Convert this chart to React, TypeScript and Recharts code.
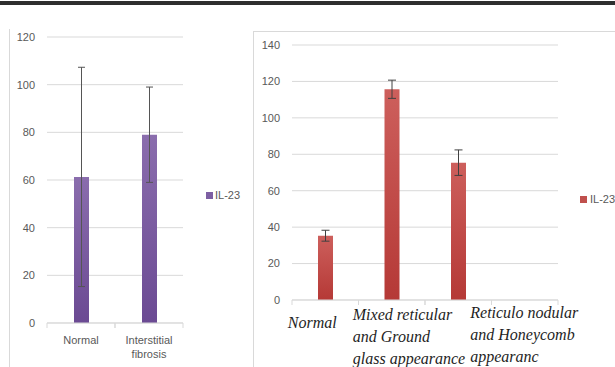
import { BarChart, Bar, XAxis, YAxis, CartesianGrid, ErrorBar, Legend } from 'recharts';

// series name shared by both panels
const seriesName = 'IL-23';

// left panel: radiology groups
const leftCategories = ['Normal', 'Interstitial fibrosis'];
const leftLabelLines = [['Normal'], ['Interstitial', 'fibrosis']];
const leftMeans = [61.3, 79];
const leftErrors = [46, 20];
const leftTicks = [0, 20, 40, 60, 80, 100, 120];

// right panel: HRCT patterns (last slot is empty in the original)
const rightCategories = ['Normal', 'Mixed reticular and Ground glass appearance', 'Reticulo nodular and Honeycomb appearanc', ''];
const rightLabelLines = [['Normal'], ['Mixed reticular', 'and Ground', 'glass appearance'], ['Reticulo nodular', 'and Honeycomb', 'appearanc'], []];
const rightMeans: (number | null)[] = [35.3, 115.7, 75.4, null];
const rightErrors: (number | null)[] = [3, 5, 7, null];
const rightTicks = [0, 20, 40, 60, 80, 100, 120, 140];

const leftData = leftCategories.map((name, i) => ({ name, value: leftMeans[i], err: leftErrors[i] }));
const rightData = rightCategories.map((name, i) => ({ name, value: rightMeans[i], err: rightErrors[i] }));

const GRID = '#d9d9d9';
const TEXT = '#595959';
const SANS = '"Liberation Sans", Arial, sans-serif';
const SERIF = '"Liberation Serif", "Times New Roman", serif';

// where the hand-placed labels of the right panel sit relative to the tick
const rightLabelPlacement = [
  { dx: -13, anchor: 'middle', dy: 28 },
  { dx: -39, anchor: 'start', dy: 20 },
  { dx: 12, anchor: 'start', dy: 18 },
  { dx: 0, anchor: 'start', dy: 20 },
];

const LeftXTick = (props: any) => {
  const { x, y, payload } = props;
  const idx = leftCategories.indexOf(payload.value);
  const half = typeof payload.offset === 'number' && payload.offset > 0 ? payload.offset : 34;
  const lines = leftLabelLines[idx] ?? [];
  return (
    <g>
      <line x1={x - half} x2={x - half} y1={y} y2={y + 5} stroke={GRID} />
      <line x1={x + half} x2={x + half} y1={y} y2={y + 5} stroke={GRID} />
      <text x={x} y={y + 21} textAnchor="middle" fill={TEXT} fontSize={11} fontFamily={SANS}>
        {lines.map((l, i) => (
          <tspan key={i} x={x} dy={i === 0 ? 0 : 14}>{l}</tspan>
        ))}
      </text>
    </g>
  );
};

const RightXTick = (props: any) => {
  const { x, y, payload } = props;
  const idx = rightCategories.indexOf(payload.value);
  const half = typeof payload.offset === 'number' && payload.offset > 0 ? payload.offset : 33.25;
  const lines = rightLabelLines[idx] ?? [];
  const p = rightLabelPlacement[idx] ?? rightLabelPlacement[3];
  const tx = x + p.dx;
  return (
    <g>
      <line x1={x - half} x2={x - half} y1={y} y2={y + 5} stroke={GRID} />
      <line x1={x + half} x2={x + half} y1={y} y2={y + 5} stroke={GRID} />
      <text x={tx} y={y + p.dy} textAnchor={p.anchor as any} fill="#1e1e1e" fontSize={16} fontStyle="italic" fontFamily={SERIF}>
        {lines.map((l, i) => (
          <tspan key={i} x={tx} dy={i === 0 ? 0 : 22}>{l}</tspan>
        ))}
      </text>
    </g>
  );
};

const LegendItem = ({ color, gap }: { color: string; gap: number }) => (
  <div style={{ display: 'flex', alignItems: 'center', fontFamily: SANS, fontSize: 11, color: TEXT, whiteSpace: 'nowrap' }}>
    <span style={{ display: 'inline-block', width: 7, height: 7, background: color, marginRight: gap }} />
    {seriesName}
  </div>
);

export default function App() {
  return (
    <div style={{ position: 'absolute', left: 0, top: 0, width: 615, height: 367, overflow: 'hidden', background: '#fff' }}>
      {/* dark rule across the top of the figure */}
      <div style={{ position: 'absolute', left: 0, top: 1, width: 615, height: 4, background: '#2e2e2e' }} />
      {/* chart box borders */}
      <div style={{ position: 'absolute', left: 9, top: 29, width: 1, height: 338, background: GRID }} />
      <div style={{ position: 'absolute', left: 253, top: 31, width: 400, height: 400, borderTop: `1px solid ${GRID}`, borderLeft: `1px solid ${GRID}` }} />

      <div style={{ position: 'absolute', left: 0, top: 0 }}>
        <BarChart width={250} height={367} data={leftData} margin={{ top: 37, right: 67, bottom: 0, left: 0 }} style={{ overflow: 'visible' }}>
          <defs>
            <linearGradient id="purpleFill" x1="0" y1="0" x2="0" y2="1">
              <stop offset="0%" stopColor="#8a6dad" />
              <stop offset="100%" stopColor="#6b4a93" />
            </linearGradient>
          </defs>
          <CartesianGrid vertical={false} stroke={GRID} />
          <XAxis
            dataKey="name"
            height={44}
            interval={0}
            tickLine={false}
            tickSize={0}
            tickMargin={0}
            axisLine={{ stroke: GRID }}
            tick={<LeftXTick />}
          />
          <YAxis
            width={47}
            domain={[0, 120]}
            ticks={leftTicks}
            axisLine={false}
            tickLine={false}
            tickMargin={6}
            tick={{ fontSize: 11, fill: TEXT, fontFamily: SANS }}
          />
          <Legend
            content={() => <LegendItem color="#7d5fa3" gap={2} />}
            align="center"
            verticalAlign="middle"
            wrapperStyle={{ left: 206, top: 189, width: 44, height: 14 }}
          />
          <Bar dataKey="value" name={seriesName} fill="url(#purpleFill)" barSize={15} isAnimationActive={false}>
            <ErrorBar dataKey="err" width={3.5} stroke="#555" strokeWidth={1} isAnimationActive={false} />
          </Bar>
        </BarChart>
      </div>

      <div style={{ position: 'absolute', left: 253, top: 31 }}>
        <BarChart width={362} height={336} data={rightData} margin={{ top: 14, right: 57, bottom: 0, left: 0 }} style={{ overflow: 'visible' }}>
          <defs>
            <linearGradient id="redFill" x1="0" y1="0" x2="0" y2="1">
              <stop offset="0%" stopColor="#cd5f5c" />
              <stop offset="100%" stopColor="#b53936" />
            </linearGradient>
          </defs>
          <CartesianGrid vertical={false} stroke={GRID} />
          <XAxis
            dataKey="name"
            height={67}
            interval={0}
            tickLine={false}
            tickSize={0}
            tickMargin={0}
            axisLine={{ stroke: GRID }}
            tick={<RightXTick />}
          />
          <YAxis
            width={39}
            domain={[0, 140]}
            ticks={rightTicks}
            axisLine={false}
            tickLine={false}
            tickMargin={6}
            tick={{ fontSize: 11, fill: TEXT, fontFamily: SANS }}
          />
          <Legend
            content={() => <LegendItem color="#c0504d" gap={3} />}
            align="center"
            verticalAlign="middle"
            wrapperStyle={{ left: 327, top: 162, width: 40, height: 14 }}
          />
          <Bar dataKey="value" name={seriesName} fill="url(#redFill)" barSize={15} isAnimationActive={false}>
            <ErrorBar dataKey="err" width={4} stroke="#404040" strokeWidth={1} isAnimationActive={false} />
          </Bar>
        </BarChart>
      </div>
    </div>
  );
}
